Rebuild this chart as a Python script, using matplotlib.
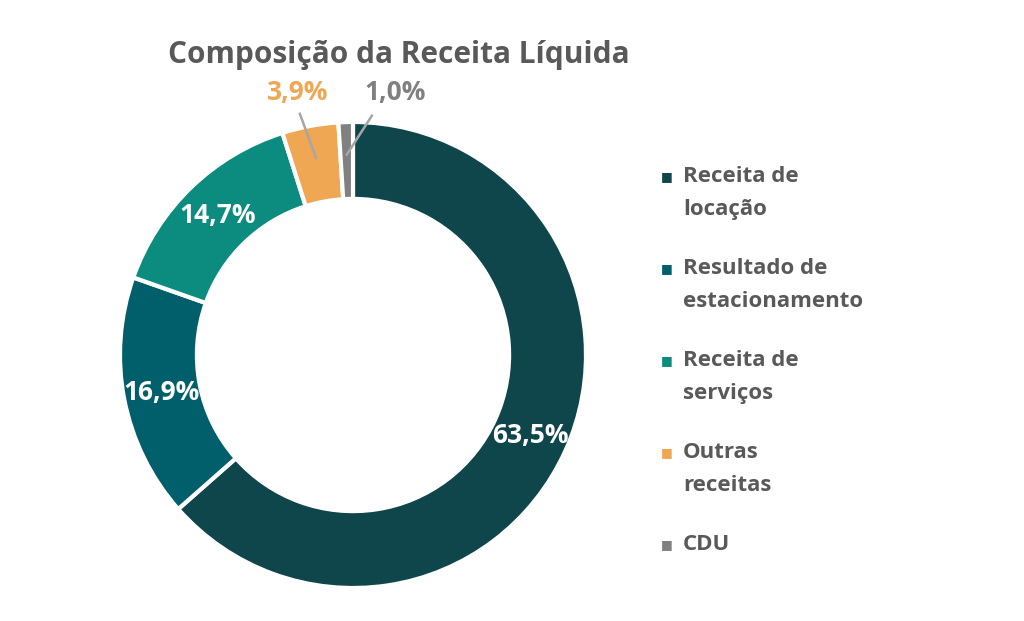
import numpy as np
import matplotlib
matplotlib.use("Agg")
import matplotlib.pyplot as plt

# data
categories = ["Receita de\nlocação", "Resultado de\nestacionamento",
              "Receita de\nserviços", "Outras\nreceitas", "CDU"]
shares = [63.5, 16.9, 14.7, 3.9, 1.0]
colors = ["#0F464C", "#005F6A", "#0B8C7E", "#EFA753", "#808080"]
title = "Composição da Receita Líquida"

plt.rcParams['font.family'] = ['Open Sans', 'DejaVu Sans']
text_gray = "#595959"

fig = plt.figure(figsize=(10.24, 6.21), dpi=100)
ax = fig.add_axes([120 / 1024, 33 / 621, 466 / 1024, 466 / 621])

wedges, _ = ax.pie(shares, colors=colors, startangle=90, counterclock=False,
                   radius=1.0,
                   wedgeprops=dict(width=0.33, edgecolor="white", linewidth=3))
ax.set_xlim(-1, 1)
ax.set_ylim(-1, 1)
ax.set_aspect("equal")

# outside labels for the thin slices:
# (text angle shift deg, text radius, (line end angle shift deg, line end radius))
outside = {3: (1.2, 1.15, (1.8, 1.06)), 4: (-11.0, 1.14, (-6.3, 1.03))}

for i, w in enumerate(wedges):
    mid = np.deg2rad((w.theta1 + w.theta2) / 2)
    txt = f"{shares[i]:.1f}%".replace(".", ",")
    if i in outside:
        dang, r, (lang, lr) = outside[i]
        ta = mid + np.deg2rad(dang)
        la = mid + np.deg2rad(lang)
        x0, y0 = 0.86 * np.cos(mid), 0.86 * np.sin(mid)
        x1, y1 = lr * np.cos(la), lr * np.sin(la)
        ax.plot([x0, x1], [y0, y1], color="#A6A6A6", lw=1.8, clip_on=False)
        ax.text(r * np.cos(ta), r * np.sin(ta), txt, ha="center", va="center",
                fontsize=19, fontweight="bold", color=colors[i])
    else:
        ax.text(0.835 * np.cos(mid), 0.835 * np.sin(mid), txt, ha="center",
                va="center", fontsize=19, fontweight="bold", color="white")

fig.text(399 / 1024, 1 - 55 / 621, title, ha="center", va="center",
         fontsize=21.5, fontweight="bold", color=text_gray)

# legend, squares aligned with the first text line
y = 1 - 177 / 621
line_gap = 33 / 621
for lab, c in zip(categories, colors):
    fig.text(667 / 1024, y, "■", ha="center", va="center", fontsize=9,
             color=c, family="DejaVu Sans")
    for j, part in enumerate(lab.split("\n")):
        fig.text(683 / 1024, y - j * line_gap, part, ha="left", va="center",
                 fontsize=16, fontweight="bold", color=text_gray)
    y -= 91.8 / 621

fig.savefig("out.png", dpi=100)
